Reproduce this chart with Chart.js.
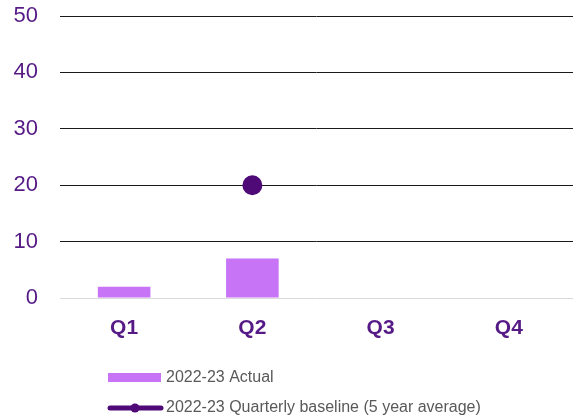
<!DOCTYPE html>
<html>
<head>
<meta charset="utf-8">
<script src="https://cdn.jsdelivr.net/npm/chart.js@4"></script>
<style>
  html, body { margin: 0; padding: 0; background: #fff; }
  #wrap { width: 573px; height: 420px; position: relative; }
</style>
</head>
<body>
<div id="wrap"><canvas id="grafico"></canvas></div>
<script>
// datos del gráfico
const trimestres = ["Q1", "Q2", "Q3", "Q4"];
const actual = [2, 7, null, null];
const baseline = [null, 20, null, null];
const etiquetasSeries = ["2022-23 Actual", "2022-23 Quarterly baseline (5 year average)"];

const colorBarra = "#c774f7";
const colorLinea = "#4f0a78";
const colorTexto = "#561a86";

// leyenda dibujada debajo del gráfico
const leyendaPlugin = {
    id: "leyendaAbajo",
    afterDraw(chart) {
        const ctx = chart.ctx;
        ctx.save();
        ctx.font = "16px 'Liberation Sans', Arial, sans-serif";
        ctx.textBaseline = "middle";

        // barra
        ctx.fillStyle = colorBarra;
        ctx.fillRect(108, 373, 53, 9);
        ctx.fillStyle = "#595959";
        ctx.fillText(etiquetasSeries[0], 166, 378);

        // línea con punto
        ctx.strokeStyle = colorLinea;
        ctx.lineWidth = 5;
        ctx.lineCap = "round";
        ctx.beginPath();
        ctx.moveTo(110, 408);
        ctx.lineTo(161, 408);
        ctx.stroke();
        ctx.fillStyle = colorLinea;
        ctx.beginPath();
        ctx.arc(135, 408, 4.5, 0, Math.PI * 2);
        ctx.fill();
        ctx.fillStyle = "#595959";
        ctx.fillText(etiquetasSeries[1], 166, 408);
        ctx.restore();
    }
};

new Chart(document.getElementById("grafico"), {
    type: "bar",
    data: {
        labels: trimestres,
        datasets: [
            {
                type: "line",
                label: etiquetasSeries[1],
                data: baseline,
                borderColor: colorLinea,
                backgroundColor: colorLinea,
                borderWidth: 5,
                pointRadius: 7.5,
                pointHoverRadius: 7.5,
                order: 0
            },
            {
                label: etiquetasSeries[0],
                data: actual,
                backgroundColor: colorBarra,
                barPercentage: 0.41,
                categoryPercentage: 1,
                order: 1
            }
        ]
    },
    options: {
        responsive: true,
        maintainAspectRatio: false,
        animation: false,
        layout: { autoPadding: false, padding: { top: 16, right: 0, bottom: 0, left: 0 } },
        plugins: {
            legend: { display: false },
            tooltip: { enabled: false }
        },
        scales: {
            x: {
                grid: { display: false, drawTicks: false },
                border: { display: false },
                ticks: {
                    color: colorTexto,
                    font: { family: "'Liberation Sans', Arial, sans-serif", size: 21, weight: "bold" },
                    padding: 18
                },
                afterFit(scale) {
                    scale.height = 122;
                    scale.paddingLeft = 0;
                    scale.paddingRight = 0;
                }
            },
            y: {
                min: 0,
                max: 50,
                ticks: {
                    stepSize: 10,
                    color: colorTexto,
                    font: { family: "'Liberation Sans', Arial, sans-serif", size: 22 },
                    padding: 22
                },
                grid: {
                    drawTicks: false,
                    color: ctx => ctx.tick && ctx.tick.value === 0 ? "#d9d9d9" : "#1a1a1a",
                    lineWidth: 1
                },
                border: { display: false },
                afterFit(scale) {
                    scale.width = 60;
                    scale.paddingTop = 0;
                    scale.paddingBottom = 0;
                }
            }
        }
    },
    plugins: [leyendaPlugin]
});
</script>
</body>
</html>
